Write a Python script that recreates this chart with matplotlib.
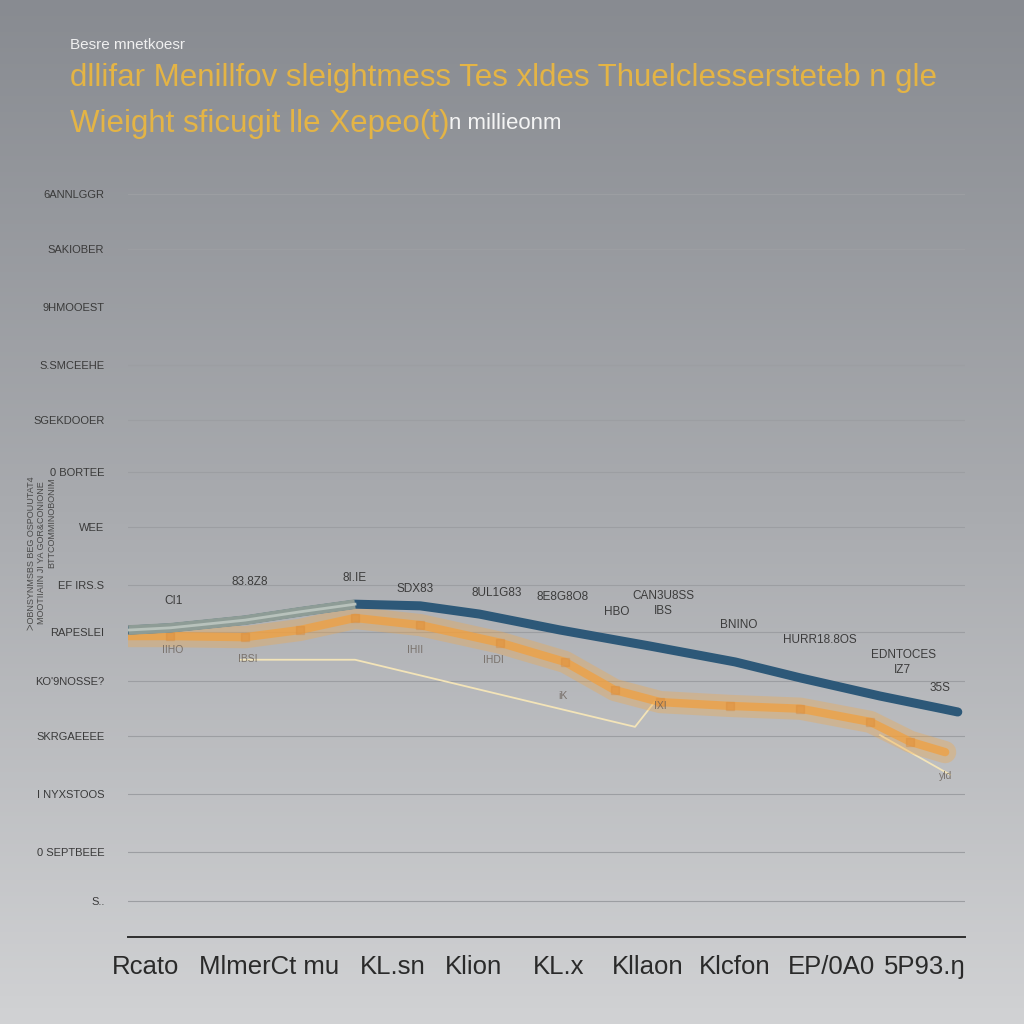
import numpy as np
import matplotlib.pyplot as plt
from matplotlib.colors import LinearSegmentedColormap

# category labels along the bottom and where they sit (index units)
categories = ["Rcato", "MlmerCt mu", "KL.sn", "Klion", "KL.x", "Kllaon", "Klcfon", "EP/0A0", "5P93.ŋ"]
cat_pos = [-0.01, 1.26, 2.53, 3.36, 4.23, 5.15, 6.05, 7.04, 8.0]

# y ticks (value units) and their labels, top to bottom
y_ticks = [13.5, 12.5, 11.45, 10.4, 9.4, 8.45, 7.45, 6.4, 5.55, 4.65, 3.65, 2.6, 1.55, 0.65]
y_labels = ["6ANNLGGR", "SAKIOBER", "9HMOOEST", "S.SMCEEHE", "SGEKDOOER", "0 BORTEE", "WEE",
            "EF IRS.S", "RAPESLEI", "KO'9NOSSE?", "SKRGAEEEE", "I NYXSTOOS", "0 SEPTBEEE", "S.."]

# blue series (first part drawn grey-green)
blue_x = [-0.19, 0.24, 1.01, 1.57, 2.14, 2.81, 3.42, 4.25, 5.17, 6.05, 6.72, 7.54, 8.15, 8.34]
blue_y = [5.58, 5.62, 5.76, 5.91, 6.05, 6.02, 5.87, 5.58, 5.29, 5.00, 4.71, 4.38, 4.16, 4.09]
grey_n = 5

# orange series
orange_x = [-0.19, 0.24, 1.01, 1.57, 2.14, 2.81, 3.63, 4.30, 4.81, 5.28, 6.00, 6.72, 7.44, 7.85, 8.21]
orange_y = [5.47, 5.47, 5.45, 5.58, 5.80, 5.67, 5.35, 5.00, 4.49, 4.27, 4.20, 4.15, 3.91, 3.55, 3.36]

# thin pale line
pale_x = [0.96, 2.14, 5.02, 5.22]
pale_y = [5.04, 5.04, 3.82, 4.27]
pale2_x = [7.54, 8.26]
pale2_y = [3.67, 2.95]

# point labels
above_labels = [("CI1", 0.27, 6.11), ("83.8Z8", 1.06, 6.45), ("8I.IE", 2.14, 6.53),
                ("SDX83", 2.76, 6.33), ("8UL1G83", 3.60, 6.25), ("8E8G8O8", 4.27, 6.18),
                ("HBO", 4.83, 5.91), ("CAN3U8SS", 5.31, 6.20), ("IBS", 5.31, 5.93),
                ("BNINO", 6.09, 5.67), ("HURR18.8OS", 6.92, 5.40), ("EDNTOCES", 7.78, 5.13),
                ("IZ7", 7.77, 4.85), ("35S", 8.16, 4.53)]
below_labels = [("IIHO", 0.26, 5.21), ("IBSI", 1.04, 5.05), ("IHII", 2.76, 5.21),
                ("IHDI", 3.56, 5.04), ("iK", 4.28, 4.38), ("IXI", 5.28, 4.20), ("yld", 8.22, 2.93)]

fig = plt.figure(figsize=(10.24, 10.24), dpi=100)

# background gradient
bg = fig.add_axes([0, 0, 1, 1], zorder=-10)
cmap = LinearSegmentedColormap.from_list("bg", ["#888b91", "#a9abaf", "#d1d2d4"])
bg.imshow(np.linspace(0, 1, 256).reshape(-1, 1), cmap=cmap, aspect="auto", extent=[0, 1, 0, 1])
bg.axis("off")

font = ["Liberation Sans", "DejaVu Sans"]

ax = fig.add_axes([0.125, 0.085, 0.817, 0.759])
ax.set_facecolor("none")
ax.set_xlim(-0.195, 8.41)
ax.set_ylim(0, 14.13)

for v in y_ticks:
    ax.axhline(v, color="#9c9ea2", lw=0.8, zorder=1)

ax.plot(blue_x, blue_y, color="#2d5878", lw=6.5, solid_capstyle="round", zorder=4)
ax.plot(blue_x[:grey_n], blue_y[:grey_n], color="#8e9c96", lw=7, solid_capstyle="butt", zorder=5)
ax.plot(blue_x[:grey_n], blue_y[:grey_n], color="#b8c2bc", lw=2, zorder=5)

ax.plot(orange_x, orange_y, color="#f2a94a", lw=16, alpha=0.35, solid_capstyle="round", zorder=3)
ax.plot(orange_x, orange_y, color="#f0a040", lw=6, alpha=0.75, solid_capstyle="round", zorder=3)
ax.plot(orange_x[1:-1], orange_y[1:-1], "s", color="#d98a3a", ms=6, alpha=0.35, zorder=3)

ax.plot(pale_x, pale_y, color="#f3e4b8", lw=1.3, zorder=2)
ax.plot(pale2_x, pale2_y, color="#f3e4b8", lw=1.3, zorder=2)

for txt, x, y in above_labels:
    ax.text(x, y, txt, ha="center", va="center", fontsize=8.5, color="#3c3c3c",
            family=font, zorder=6)
for txt, x, y in below_labels:
    ax.text(x, y, txt, ha="center", va="center", fontsize=7.5, color="#6a6058",
            family=font, alpha=0.8, zorder=6)

ax.set_yticks(y_ticks)
ax.set_yticklabels(y_labels, fontsize=8, color="#3a3a3a", family=font)
ax.set_xticks(cat_pos)
ax.set_xticklabels(categories, fontsize=18.5, color="#2a2a2a", family=font)
ax.tick_params(axis="y", length=0, pad=17)
ax.tick_params(axis="x", length=0, pad=13)

for s in ["top", "right", "left"]:
    ax.spines[s].set_visible(False)
ax.spines["bottom"].set_color("#2e2e2e")
ax.spines["bottom"].set_linewidth(1.4)

# vertical axis label (three short columns)
fig.text(0.031, 0.46, "ᐳOBNSYNMSBS BEG OSPOUUTAT4", rotation=90, ha="center", va="center",
         fontsize=6.5, color="#4a4a4a", family=font)
fig.text(0.041, 0.46, "MOOTIIAIIN JI YA GOR&CONIONE", rotation=90, ha="center", va="center",
         fontsize=6.5, color="#4a4a4a", family=font)
fig.text(0.051, 0.49, "BTTCOMMINOBONIM", rotation=90, ha="center", va="center",
         fontsize=6.5, color="#4a4a4a", family=font)

# titles
fig.text(0.068, 0.956, "Besre mnetkoesr", fontsize=11, color="#f0f0f0", family=font, va="center")
fig.text(0.068, 0.924, "dllifar Menillfov sleightmess Tes xldes Thuelclessersteteb n gle",
         fontsize=22.5, color="#e4b445", family=font, va="center")
t = fig.text(0.068, 0.879, "Wieight sficugit lle Xepeo(t)", fontsize=22.5, color="#e4b445",
             family=font, va="center")
fig.canvas.draw()
bb = t.get_window_extent().transformed(fig.transFigure.inverted())
fig.text(bb.x1, 0.879, "n millieonm", fontsize=16, color="#f4f4f4", family=font, va="center")

fig.savefig("out.png", dpi=100)
